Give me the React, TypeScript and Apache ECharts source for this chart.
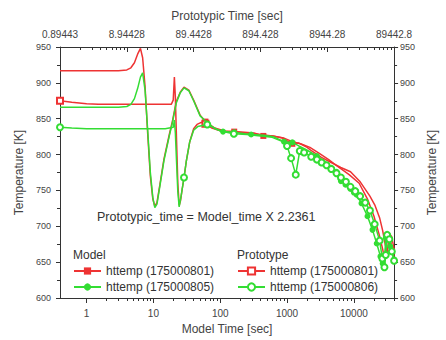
import React, { useEffect, useRef } from "react";
import * as echarts from "echarts";

// ---- axis ticks / labels ----
const xMajorTicks = [1, 10, 100, 1000, 10000];
const xMinorTicks: number[] = [];
[1, 10, 100, 1000, 10000].forEach((d) => {
  [2, 3, 4, 5, 6, 7, 8, 9].forEach((m) => {
    if (d * m <= 40000) xMinorTicks.push(d * m);
  });
});
// top axis (prototypic time) ticks expressed in model time
const topMajorTicks = [0.4, 4, 40, 400, 4000, 40000];
const topLabels = ["0.89443", "8.94428", "89.4428", "894.428", "8944.28", "89442.8"];
const topMinorTicks: number[] = [];
[0.4, 4, 40, 400, 4000].forEach((d) => {
  [2, 3, 4, 5, 6, 7, 8, 9].forEach((m) => topMinorTicks.push(d * m));
});

// ---- Model httemp (175000801) ----
const m801T = [0.4, 1, 2, 3, 4, 4.6, 5.2, 5.8, 6.4, 6.9, 7.5, 8.2, 9, 9.8, 10.5, 11.3, 12.5, 14.4, 17.3, 19.3, 22, 25.2, 28.7, 33.9, 40, 50, 60, 83, 116, 162, 230, 320, 442, 620, 850, 1200, 1500, 2000, 2340, 3270, 4570, 6380, 8910, 12440, 17380, 20530, 24260, 27000, 29000, 31500, 33870, 37000, 40000];
const m801V = [917, 917, 917, 917, 918, 921, 928, 940, 948, 935, 895, 830, 770, 738, 728, 733, 758, 794, 828, 847, 874, 887, 894, 890, 876, 855, 846, 837, 833, 832, 831, 830, 826, 826, 823, 815, 816, 810, 805, 796, 789, 782, 776, 762, 742, 730, 712, 694, 678, 662, 690, 685, 668];
const m801Marks = [26, 29, 32, 35];

// ---- Model httemp (175000805) ----
const m805T = [0.4, 1, 2, 3, 4, 4.6, 5.2, 5.8, 6.4, 6.9, 7.5, 8.2, 9, 9.8, 10.5, 11.3, 12.5, 14.4, 17.3, 19.3, 22, 25.2, 28.7, 33.9, 40, 50, 63, 83, 110, 162, 230, 290, 450, 620, 900, 1200, 1500, 2000, 2800, 4000, 5500, 6400, 7500, 8900, 10000, 11000, 13000, 16000, 19000, 22000, 25000, 27000, 28500, 30000, 32000, 35000, 40000];
const m805V = [866, 866, 866, 866, 867, 870, 878, 892, 908, 914, 890, 835, 775, 740, 726, 731, 756, 792, 826, 845, 872, 886, 893, 889, 875, 854, 845, 836, 832, 831, 829, 828, 827, 825, 818, 817, 812, 806, 798, 788, 776, 763, 758, 752, 747, 744, 732, 714, 695, 676, 658, 648, 642, 684, 688, 672, 654];
const m805Marks = [28, 29, 31, 34, 35, 38, 40, 41, 42, 43, 44, 45, 46, 47, 48, 49, 50, 51, 52, 53, 54, 55, 56];

// ---- Prototype httemp (175000801) ----
const p801T = [0.4, 0.6, 1, 1.5, 2, 5, 10, 15, 18.5, 19.8, 20.6, 21.3, 22.2, 23.2, 24.3, 25.5, 27, 28.7, 31, 35, 40, 45, 52, 60, 75, 100, 160, 250, 400, 600, 900, 1200, 1600, 2200, 3000, 4200, 6000, 8500, 12000, 16000, 20000, 24000, 27000, 29000, 31000, 34000, 37000, 40000];
const p801V = [875, 873, 871, 870, 870, 870, 870, 870, 870, 876, 908, 880, 820, 760, 729, 736, 752, 768, 790, 818, 836, 842, 845, 843, 837, 833, 831, 830, 828, 826, 823, 818, 815, 810, 802, 793, 782, 772, 760, 738, 714, 688, 668, 652, 690, 686, 672, 658];
const p801Marks = [0, 23];

// ---- Prototype httemp (175000806) ----
const p806T = [0.4, 0.6, 1, 2, 5, 10, 15, 19.8, 20.6, 21.3, 22.2, 23.2, 24.3, 25.5, 27, 28.7, 31, 35, 40, 46, 64, 100, 160, 250, 400, 600, 860, 1000, 1150, 1350, 1550, 1800, 2300, 2800, 3300, 3900, 4600, 5500, 6400, 7600, 8900, 10500, 12400, 14800, 17400, 20500, 24300, 26700, 28700, 30000, 31500, 34000, 37000, 40000];
const p806V = [838, 837, 836, 836, 836, 836, 836, 838, 848, 830, 790, 748, 727, 738, 752, 768, 790, 818, 834, 839, 842, 833, 829, 828, 826, 824, 818, 812, 795, 772, 805, 803, 797, 793, 789, 785, 780, 774, 768, 762, 755, 749, 742, 733, 722, 703, 680, 655, 643, 660, 688, 682, 665, 652];
const p806Marks = [0, 15, 20, 22, 27, 28, 29, 30, 31, 32, 33, 34, 35, 36, 37, 38, 39, 40, 41, 42, 43, 44, 45, 46, 47, 48, 49, 50, 51, 52, 53];

const seriesNames: Record<string, string> = {
  m801: "httemp (175000801)",
  m805: "httemp (175000805)",
  p801: "httemp (175000801)",
  p806: "httemp (175000806)",
};

const RED = "#ee3333";
const GREEN = "#33dd33";
const FONT = "'Liberation Sans', Arial, sans-serif";
const TXT = "#444";

function zip(ts: number[], vs: number[]) {
  return ts.map((t, i) => [t, vs[i]]);
}

export default function App() {
  const ref = useRef<HTMLDivElement>(null);
  useEffect(() => {
    if (!ref.current) return;
    const chart = echarts.init(ref.current, undefined, { renderer: "svg" });
    const axisLine = { show: true, lineStyle: { color: "#333", width: 1 } };
    const baseX = { type: "log", logBase: 10, min: 0.4, max: 40000, gridIndex: 0, splitLine: { show: false } };
    const mkSeries = (id: string, ts: number[], vs: number[], symbol: string, color: string, marks: number[], z: number) => ({
      id,
      name: id,
      type: "line",
      data: zip(ts, vs),
      xAxisIndex: 0,
      yAxisIndex: 0,
      symbol,
      symbolSize: (_v: any, p: any) => (marks.indexOf(p.dataIndex) >= 0 ? 6 : 0),
      showSymbol: true,
      lineStyle: { color, width: 1.5 },
      itemStyle: { color, borderWidth: 1.2 },
      emphasis: { disabled: true },
      z,
    });
    chart.setOption({
      animation: false,
      textStyle: { fontFamily: FONT },
      grid: { left: 60, right: 41, top: 47, bottom: 41 },
      xAxis: [
        {
          ...baseX,
          position: "bottom",
          name: "Model Time [sec]",
          nameLocation: "middle",
          nameGap: 25,
          nameTextStyle: { fontSize: 12, color: TXT, fontFamily: FONT },
          axisLine,
          axisTick: { show: true, customValues: xMajorTicks, length: 5, lineStyle: { color: "#333" } },
          axisLabel: { customValues: xMajorTicks, formatter: (v: number) => String(Math.round(v)), fontSize: 10, color: TXT, margin: 10, fontFamily: FONT },
        },
        {
          ...baseX,
          position: "bottom",
          axisLine: { show: false },
          axisTick: { show: true, customValues: xMinorTicks, length: 3, lineStyle: { color: "#333" } },
          axisLabel: { show: false },
        },
        {
          ...baseX,
          position: "top",
          name: "Prototypic Time [sec]",
          nameLocation: "middle",
          nameGap: 25,
          nameTextStyle: { fontSize: 12, color: TXT, fontFamily: FONT },
          axisLine,
          axisTick: { show: true, inside: true, customValues: topMajorTicks, length: 5, lineStyle: { color: "#333" } },
          axisLabel: {
            customValues: topMajorTicks,
            formatter: (v: number) => {
              const i = topMajorTicks.findIndex((t) => Math.abs(Math.log10(t) - Math.log10(v)) < 0.01);
              return i >= 0 ? topLabels[i] : "";
            },
            fontSize: 10,
            color: TXT,
            margin: 8,
            fontFamily: FONT,
          },
        },
        {
          ...baseX,
          position: "top",
          axisLine: { show: false },
          axisTick: { show: true, inside: true, customValues: topMinorTicks, length: 3, lineStyle: { color: "#333" } },
          axisLabel: { show: false },
        },
      ],
      yAxis: [
        {
          type: "value",
          position: "left",
          min: 600,
          max: 950,
          interval: 50,
          name: "Temperature [K]",
          nameLocation: "middle",
          nameRotate: 90,
          nameGap: 31,
          nameTextStyle: { fontSize: 12, color: TXT, fontFamily: FONT },
          axisLine,
          axisTick: { show: true, length: 4, lineStyle: { color: "#333" } },
          minorTick: { show: true, splitNumber: 2, length: 3, lineStyle: { color: "#333" } },
          axisLabel: { fontSize: 9, color: TXT, margin: 9, fontFamily: FONT },
          splitLine: { show: false },
        },
        {
          type: "value",
          position: "right",
          min: 600,
          max: 950,
          interval: 50,
          name: "Temperature [K]",
          nameLocation: "middle",
          nameRotate: 90,
          nameGap: 22,
          nameTextStyle: { fontSize: 12, color: TXT, fontFamily: FONT },
          axisLine,
          axisTick: { show: true, length: 4, lineStyle: { color: "#333" } },
          minorTick: { show: true, splitNumber: 2, length: 3, lineStyle: { color: "#333" } },
          axisLabel: { fontSize: 9, color: TXT, margin: 6, fontFamily: FONT },
          splitLine: { show: false },
        },
      ],
      legend: [
        {
          data: ["m801", "m805"],
          orient: "vertical",
          left: 73,
          top: 265,
          padding: 0,
          itemWidth: 27,
          itemHeight: 9,
          itemGap: 4,
          selectedMode: false,
          formatter: (n: string) => seriesNames[n],
          textStyle: { fontSize: 12, color: "#333", fontFamily: FONT },
        },
        {
          data: ["p801", "p806"],
          orient: "vertical",
          left: 237,
          top: 265,
          padding: 0,
          itemWidth: 27,
          itemHeight: 9,
          itemGap: 4,
          selectedMode: false,
          formatter: (n: string) => seriesNames[n],
          textStyle: { fontSize: 12, color: "#333", fontFamily: FONT },
        },
      ],
      graphic: [
        { type: "text", left: 73, top: 249, style: { text: "Model", fontSize: 12, fill: "#333", fontFamily: FONT } },
        { type: "text", left: 237, top: 249, style: { text: "Prototype", fontSize: 12, fill: "#333", fontFamily: FONT } },
        { type: "text", left: 97, top: 210, style: { text: "Prototypic_time = Model_time X 2.2361", fontSize: 12.5, fill: "#333", fontFamily: FONT } },
      ],
      series: [
        mkSeries("m801", m801T, m801V, "rect", RED, m801Marks, 2),
        mkSeries("p801", p801T, p801V, "emptyRect", RED, p801Marks, 3),
        mkSeries("m805", m805T, m805V, "circle", GREEN, m805Marks, 4),
        mkSeries("p806", p806T, p806V, "emptyCircle", GREEN, p806Marks, 5),
      ],
    });
    return () => chart.dispose();
  }, []);
  return <div ref={ref} style={{ position: "fixed", left: 0, top: 0, width: 446, height: 340, background: "#fff" }} />;
}
